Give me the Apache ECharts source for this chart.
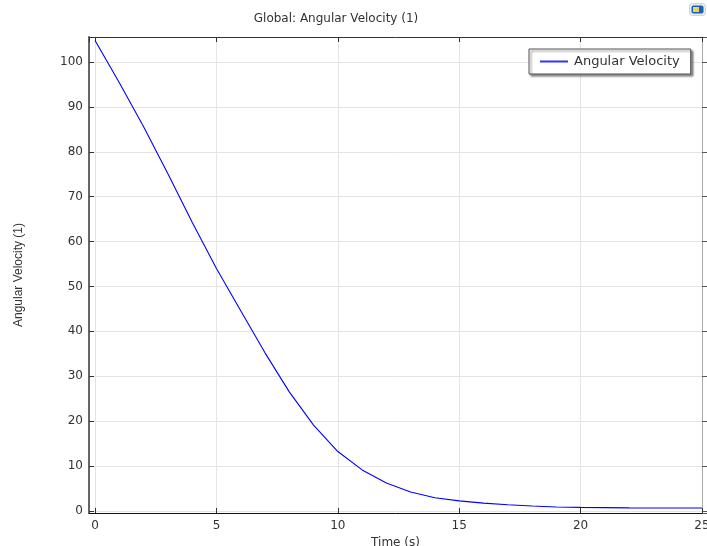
<!DOCTYPE html>
<html>
<head>
<meta charset="utf-8">
<script src="https://cdn.jsdelivr.net/npm/echarts@6/dist/echarts.min.js"></script>
<style>
  html, body { margin: 0; padding: 0; background: #fff; }
  #chart { width: 707px; height: 546px; }
</style>
</head>
<body>
<div id="chart"></div>
<script>
// Time samples (s) and the angular velocity at each sample
const timeSeconds = [0, 1, 2, 3, 4, 5, 6, 7, 8, 9, 10, 11, 12, 13, 14, 15, 16, 17, 18, 19, 20, 21, 22, 23, 24, 25];
const angularVelocity = [104.8, 95.4, 85.6, 75.1, 64.3, 54.0, 44.6, 35.2, 26.5, 19.1, 13.2, 9.1, 6.2, 4.2, 2.9, 2.2, 1.7, 1.35, 1.05, 0.85, 0.75, 0.7, 0.65, 0.62, 0.6, 0.6];

const plotTitle = 'Global: Angular Velocity (1)';
const seriesName = 'Angular Velocity';
const xAxisTitle = 'Time (s)';
const yAxisTitle = 'Angular Velocity (1)';

const points = timeSeconds.map((t, i) => [t, angularVelocity[i]]);

const tickFont = { fontFamily: 'DejaVu Sans', fontSize: 12, color: '#333' };
const xRange = { min: -0.25, max: 25, splitNumber: 5 };
const yRange = { min: -0.5, max: 105.6, splitNumber: 10 };

const chart = echarts.init(document.getElementById('chart'), null, { renderer: 'canvas' });

chart.setOption({
  animation: false,
  backgroundColor: '#fff',
  title: {
    text: plotTitle,
    left: 331,
    top: 8,
    textAlign: 'center',
    textStyle: { fontFamily: 'DejaVu Sans', fontSize: 12, fontWeight: 'normal', color: '#333' }
  },
  legend: {
    data: [seriesName],
    left: 529,
    top: 49,
    orient: 'vertical',
    icon: 'rect',
    itemWidth: 28,
    itemHeight: 2,
    itemGap: 0,
    padding: [6, 11, 6, 11],
    backgroundColor: '#fff',
    borderColor: '#555',
    borderWidth: 1,
    shadowColor: 'rgba(0,0,0,0.45)',
    shadowBlur: 2,
    shadowOffsetX: 2,
    shadowOffsetY: 2,
    itemStyle: { color: '#3030ff', borderWidth: 0 },
    textStyle: { fontFamily: 'DejaVu Sans', fontSize: 13, color: '#333', padding: [0, 0, 0, 1] }
  },
  grid: { left: 89, right: 5, top: 37, bottom: 33, outerBoundsMode: 'none', containLabel: false },
  xAxis: [
    {
      type: 'value',
      position: 'bottom',
      ...xRange,
      name: xAxisTitle,
      nameLocation: 'middle',
      nameGap: 17,
      nameTextStyle: { fontFamily: 'DejaVu Sans', fontSize: 12, color: '#333' },
      axisLine: { onZero: false, lineStyle: { color: '#111', width: 1 } },
      axisTick: { inside: true, length: 5, lineStyle: { color: '#333' } },
      axisLabel: { ...tickFont, margin: 7, showMinLabel: false, showMaxLabel: true },
      splitLine: { show: true, lineStyle: { color: '#e4e4e4', width: 1 } }
    },
    {
      type: 'value',
      position: 'top',
      ...xRange,
      axisLine: { onZero: false, lineStyle: { color: '#333', width: 1 } },
      axisTick: { inside: true, length: 5, lineStyle: { color: '#333' } },
      axisLabel: { show: false },
      splitLine: { show: false }
    }
  ],
  yAxis: [
    {
      type: 'value',
      position: 'left',
      ...yRange,
      name: yAxisTitle,
      nameLocation: 'middle',
      nameRotate: 90,
      nameGap: 64,
      nameTextStyle: { fontFamily: 'Liberation Sans', fontSize: 12, color: '#333' },
      axisLine: { onZero: false, lineStyle: { color: '#666', width: 2 } },
      axisTick: { inside: true, length: 5, lineStyle: { color: '#333' } },
      axisLabel: { ...tickFont, margin: 6, showMinLabel: false, showMaxLabel: false },
      splitLine: { show: true, lineStyle: { color: '#e4e4e4', width: 1 } }
    },
    {
      type: 'value',
      position: 'right',
      ...yRange,
      axisLine: { onZero: false, lineStyle: { color: '#aaa', width: 1 } },
      axisTick: { inside: false, length: 5, lineStyle: { color: '#555' } },
      axisLabel: { show: false },
      splitLine: { show: false }
    }
  ],
  series: [
    {
      name: seriesName,
      type: 'line',
      xAxisIndex: 0,
      yAxisIndex: 0,
      data: points,
      showSymbol: false,
      symbol: 'none',
      lineStyle: { color: '#0000ff', width: 1.1 },
      itemStyle: { color: '#0000ff' }
    }
  ],
  graphic: [
    {
      type: 'group',
      left: 689,
      top: 3,
      children: [
        { type: 'rect', shape: { x: 0, y: 0, width: 16, height: 12, r: 3 }, style: { fill: '#e6ebf0', stroke: '#d0d6dc', lineWidth: 1 } },
        { type: 'rect', shape: { x: 2, y: 2, width: 12, height: 8, r: 2 }, style: { fill: '#1f5fb8' } },
        { type: 'rect', shape: { x: 3.5, y: 3.5, width: 6, height: 5 }, style: { fill: '#e3d94a' } }
      ]
    }
  ]
});
</script>
</body>
</html>
